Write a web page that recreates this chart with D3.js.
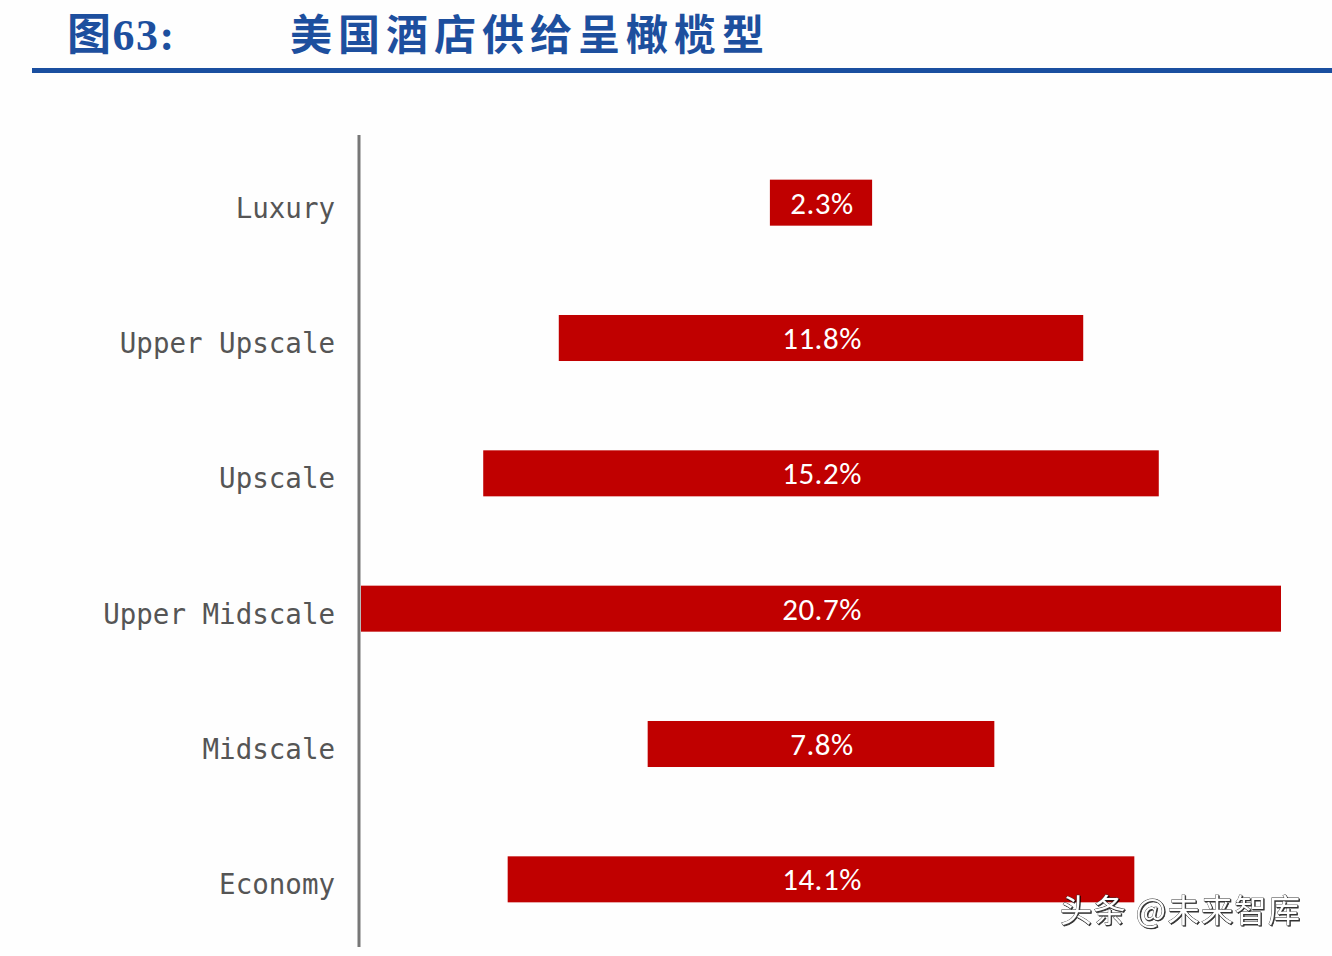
<!DOCTYPE html>
<html>
<head>
<meta charset="utf-8">
<script src="https://cdn.jsdelivr.net/npm/d3@7"></script>
<style>
  body { margin: 0; background: #fefefe; }
  svg { display: block; }
</style>
</head>
<body>
<div id="chart"></div>
<script>
// hotel supply share by segment (US), %
const categories = ['Luxury', 'Upper Upscale', 'Upscale', 'Upper Midscale', 'Midscale', 'Economy']
const values = [2.3, 11.8, 15.2, 20.7, 7.8, 14.1]
const titleNo = '图63:'
const titleText = '美国酒店供给呈橄榄型'

const W = 1332, H = 956
const svg = d3.select('#chart').append('svg')
  .attr('width', W).attr('height', H)

svg.append('rect').attr('width', W).attr('height', H).attr('fill', '#fefefe')

// header
svg.append('text')
  .attr('x', 67).attr('y', 50)
  .attr('font-family', '"Liberation Serif", "Noto Sans CJK SC", serif')
  .attr('font-weight', 'bold')
  .attr('font-size', 44)
  .attr('letter-spacing', 1.5)
  .attr('fill', '#1d4f9e')
  .text(titleNo)
svg.append('text')
  .attr('x', 290).attr('y', 50)
  .attr('font-family', '"Noto Sans CJK SC", sans-serif')
  .attr('font-weight', 'bold')
  .attr('font-size', 42)
  .attr('letter-spacing', 6)
  .attr('fill', '#1d4f9e')
  .text(titleText)
svg.append('rect')
  .attr('x', 32).attr('y', 68).attr('width', W - 32).attr('height', 5)
  .attr('fill', '#1a4fa0')

// scales
const maxV = d3.max(values)
const x = d3.scaleLinear().domain([-maxV / 2, maxV / 2]).range([361, 1281])
const y = d3.scaleBand().domain(categories).range([135, 947]).paddingInner(0.66).paddingOuter(0.33)

const g = svg.append('g')

g.selectAll('rect.bar')
  .data(values)
  .join('rect')
  .attr('class', 'bar')
  .attr('x', d => x(-d / 2))
  .attr('width', d => x(d / 2) - x(-d / 2))
  .attr('y', (d, i) => y(categories[i]))
  .attr('height', y.bandwidth())
  .attr('fill', '#c00000')

g.selectAll('text.val')
  .data(values)
  .join('text')
  .attr('class', 'val')
  .attr('x', x(0) + 1)
  .attr('y', (d, i) => y(categories[i]) + y.bandwidth() / 2)
  .attr('dy', '0.36em')
  .attr('text-anchor', 'middle')
  .attr('font-family', 'Carlito, "Open Sans", sans-serif')
  .attr('font-size', 31)
  .attr('letter-spacing', 0.5)
  .attr('fill', '#fff')
  .text(d => d.toFixed(1) + '%')

// category axis
const axis = d3.axisLeft(y).tickSize(0).tickPadding(24)
const ax = svg.append('g').attr('transform', 'translate(359,0)').call(axis)
ax.select('.domain').attr('stroke', '#777').attr('stroke-width', 3)
  .attr('d', 'M0,135V947')
ax.selectAll('text')
  .attr('dy', '0.55em')
  .attr('font-family', '"DejaVu Sans Mono", monospace')
  .attr('font-size', 27.5)
  .attr('fill', '#555')

// watermark
svg.append('text')
  .attr('x', 1060).attr('y', 922)
  .attr('font-family', '"Noto Sans CJK SC", sans-serif')
  .attr('font-size', 32)
  .attr('letter-spacing', 1.5)
  .attr('fill', '#fff')
  .attr('stroke', '#333').attr('stroke-width', 0.8)
  .style('paint-order', 'stroke')
  .attr('filter', 'drop-shadow(1.5px 1.5px 0.5px rgba(0,0,0,0.8))')
  .text('头条 @未来智库')
</script>
</body>
</html>
